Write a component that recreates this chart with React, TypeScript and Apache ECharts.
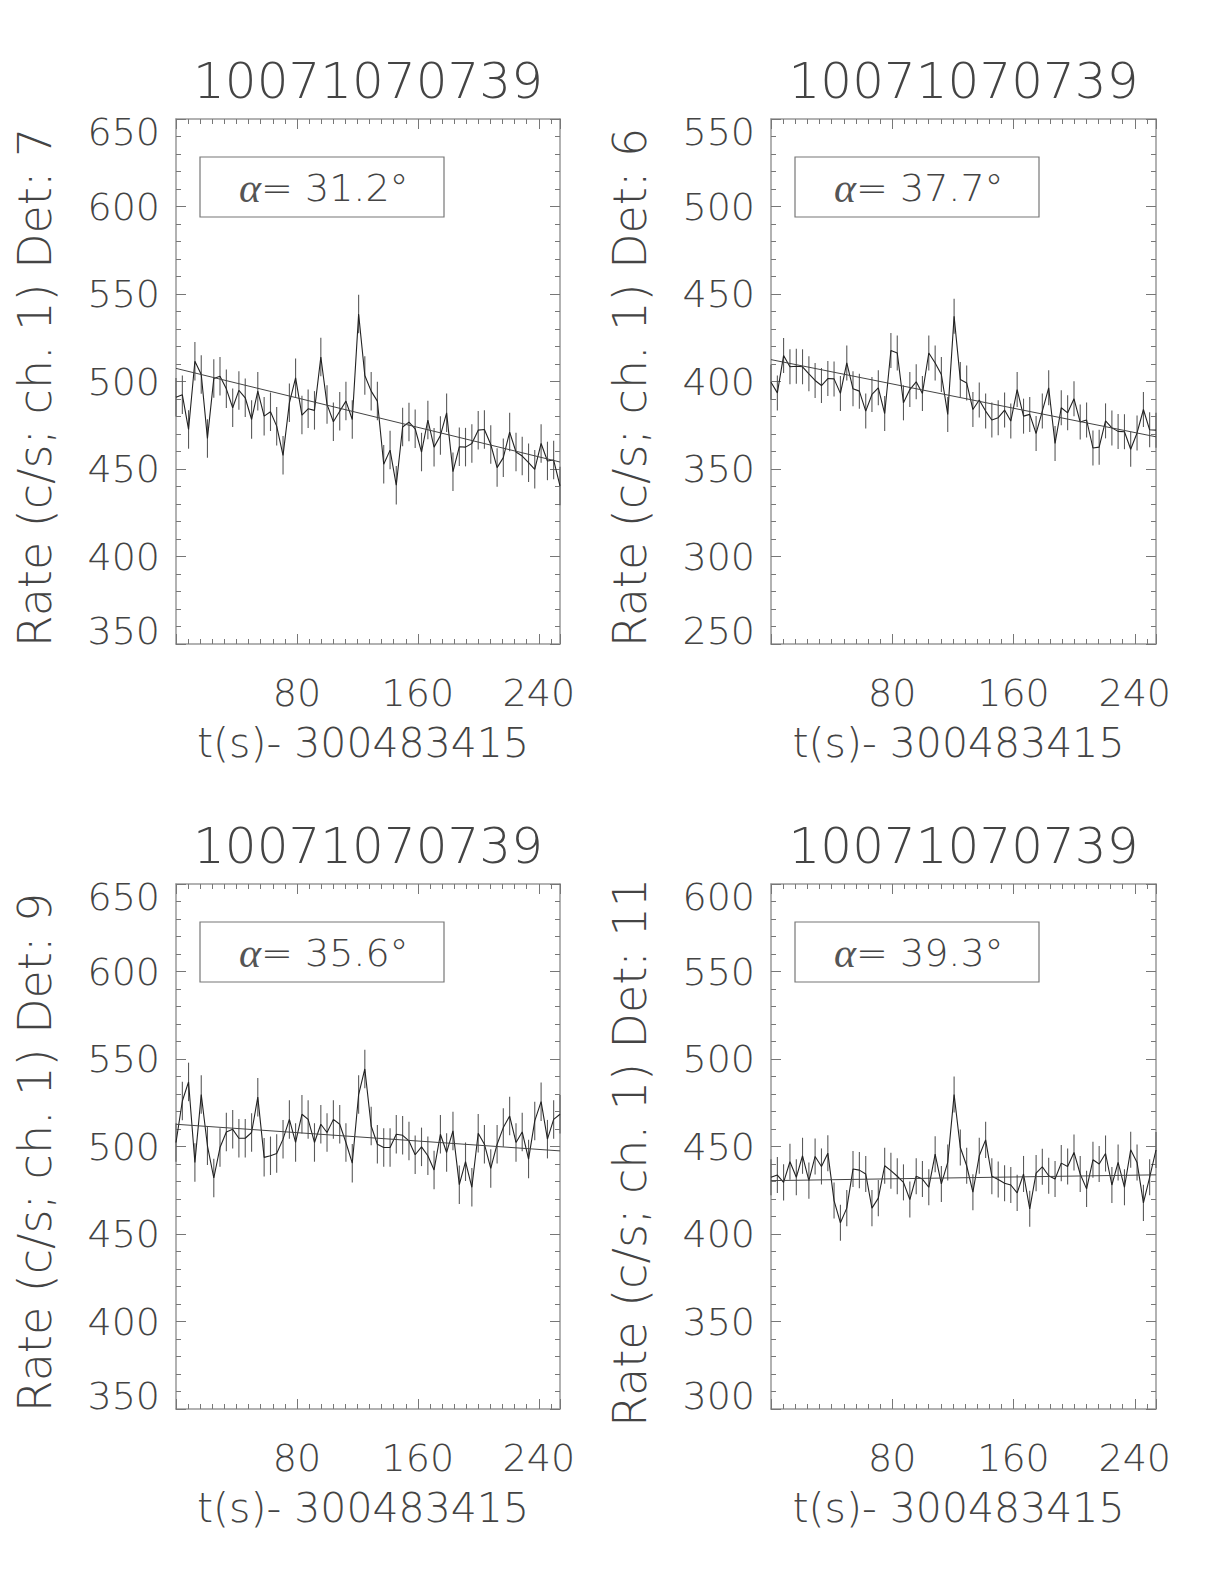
import React, { useEffect, useRef } from "react";
import * as echarts from "echarts";

const TITLE = "10071070739";
const X_TITLE = "t(s)- 300483415";
const Y_TITLE_PREFIX = "Rate (c/s; ch. 1) Det: ";
const DETECTORS = ["7", "6", "9", "11"];
const ALPHAS = ["31.2", "37.7", "35.6", "39.3"];
const X_TICKS = [80, 160, 240];
const Y_MIN = [350, 250, 350, 300];
const Y_MAX = [650, 550, 650, 600];

const TIME = [
  0, 4.2, 8.3, 12.5, 16.7, 20.8, 25.0, 29.1, 33.3, 37.5, 41.6, 45.8, 50.0, 54.1, 58.3, 62.5,
  66.6, 70.8, 75.0, 79.1, 83.3, 87.4, 91.6, 95.8, 99.9, 104.1, 108.3, 112.4, 116.6, 120.8,
  124.9, 129.1, 133.2, 137.4, 141.6, 145.7, 149.9, 154.1, 158.2, 162.4, 166.6, 170.7, 174.9,
  179.0, 183.2, 187.4, 191.5, 195.7, 199.9, 204.0, 208.2, 212.4, 216.5, 220.7, 224.9, 229.0,
  233.2, 237.3, 241.5, 245.7, 249.8, 254.0,
];

const RATE_DET7 = [
  491, 492.4, 472.6, 511.6, 504, 467.5, 501.7, 503, 495.8, 485, 494.9, 490.7, 478.3, 494.5,
  480.2, 482.7, 474.5, 457.8, 487.8, 502.1, 480.8, 484.4, 483.5, 514, 486.9, 477, 483, 488.8,
  478.3, 538.6, 503.4, 494.5, 488.8, 452.7, 460.8, 440.7, 474, 476.8, 473, 459.7, 478, 462.5,
  469.2, 482.1, 448.5, 462.7, 462.5, 464.6, 472.2, 472.6, 464, 450.8, 456.5, 471.1, 459.7,
  457.4, 453.6, 449.8, 464.6, 454.6, 455.1, 440.3,
];
const RATE_DET6 = [
  399.6, 393.5, 414.8, 408.4, 408.7, 408.4, 404.4, 400.6, 397.7, 401.7, 401.5, 393.2, 410.6,
  395.8, 394.5, 383.1, 392.6, 396.4, 381.7, 417.7, 416.3, 387.8, 395.4, 399.8, 393.2, 416.3,
  410.6, 404.0, 381.2, 437.3, 401.1, 399.2, 384.0, 389.4, 383.1, 378.0, 379.3, 383.7, 377.4,
  395.4, 380.2, 381.2, 370.3, 383.1, 396.4, 364.6, 385.0, 382.1, 390.1, 376.8, 378.0, 362.0,
  362.5, 377.5, 373.5, 371.5, 371.3, 361.3, 370.6, 384.0, 372.4, 372.2,
];
const RATE_DET9 = [
  502.3, 526, 536.9, 490.9, 529.7, 500.4, 482, 499.4, 508.3, 509.8, 504.7, 504.7, 508, 528.2,
  493.8, 494.7, 496, 504.2, 515.5, 502.3, 518.4, 515.5, 502.3, 512.7, 508, 515.5, 512.7, 502.3,
  490.5, 529.7, 544.3, 511.7, 501.3, 499.4, 499.4, 507, 506.4, 503.2, 495.3, 499.8, 494.7,
  486.6, 507, 496.6, 508.9, 478.2, 491.3, 476.7, 507.6, 501.3, 487.5, 501.3, 510.8, 517.4,
  502.3, 508.3, 492.8, 514.6, 525.6, 504.2, 515.5, 518.4,
];
const RATE_DET11 = [
  432.4, 433.7, 429.5, 441.3, 432.4, 444.7, 430.5, 444.3, 438.6, 446.2, 419.1, 406.4, 414.8,
  437.1, 436.5, 434.3, 414.8, 420.5, 439.0, 436.2, 433.0, 429.5, 419.7, 433.0, 431.4, 426.7,
  445.6, 428.6, 440.9, 479.7, 449.4, 439.0, 423.9, 444.7, 453.8, 433.0, 431.1, 429.0, 428.0,
  423.5, 434.3, 414.4, 434.8, 438.4, 433.3, 431.4, 440.5, 438.6, 446.6, 434.3, 425.8, 442.4,
  440.0, 446.0, 428.0, 440.9, 426.7, 448.1, 440.9, 417.8, 432.4, 448.0,
];
const RATES = [RATE_DET7, RATE_DET6, RATE_DET9, RATE_DET11];
const ERRORS = [11, 10, 11, 10.3];

// linear fit: value at first and last time bin
const FIT_DET7 = [507.5, 454.0];
const FIT_DET6 = [412.5, 368.4];
const FIT_DET9 = [512.7, 497.5];
const FIT_DET11 = [430.5, 433.8];
const FITS = [FIT_DET7, FIT_DET6, FIT_DET9, FIT_DET11];

const FONT = "'DejaVu Sans', sans-serif";
const W = 200;
const TEXT = "#444";
const FRAME = "#999";
const TICK = "#777";

const PANELS = [
  { left: 176, top: 119, width: 384, height: 525 },
  { left: 771, top: 119, width: 385, height: 525 },
  { left: 176, top: 884, width: 384, height: 525 },
  { left: 771, top: 884, width: 385, height: 525 },
];

export default function App() {
  const ref = useRef<HTMLDivElement>(null);
  useEffect(() => {
    if (!ref.current) return;
    const chart = echarts.init(ref.current, undefined, { renderer: "svg" });
    const grid: any[] = [];
    const xAxis: any[] = [];
    const yAxis: any[] = [];
    const series: any[] = [];
    const graphic: any[] = [];

    PANELS.forEach((p, i) => {
      grid.push({ left: p.left, top: p.top, width: p.width, height: p.height, containLabel: false });
      const tMin = TIME[0];
      const tMax = TIME[TIME.length - 1];
      const xCommon = {
        type: "value",
        gridIndex: i,
        min: tMin,
        max: tMax,
        interval: 80,
        axisLine: { show: true, onZero: false, lineStyle: { color: FRAME, width: 1.5 } },
        axisTick: { show: true, inside: true, length: 10, lineStyle: { color: TICK } },
        minorTick: { show: true, splitNumber: 10, length: 5, lineStyle: { color: TICK } },
        splitLine: { show: false },
        minorSplitLine: { show: false },
      };
      xAxis.push({
        ...xCommon,
        position: "bottom",
        axisLabel: {
          show: true,
          margin: 30,
          fontSize: 38,
          fontFamily: FONT,
          fontWeight: W,
          color: TEXT,
          hideOverlap: false,
          formatter: (v: number) => (X_TICKS.indexOf(v) >= 0 ? String(v) : ""),
        },
      });
      xAxis.push({ ...xCommon, position: "top", axisLabel: { show: false } });
      const yCommon = {
        type: "value",
        gridIndex: i,
        min: Y_MIN[i],
        max: Y_MAX[i],
        interval: 50,
        axisLine: { show: true, onZero: false, lineStyle: { color: FRAME, width: 1.5 } },
        axisTick: { show: true, inside: true, length: 10, lineStyle: { color: TICK } },
        minorTick: { show: true, splitNumber: 5, length: 5, lineStyle: { color: TICK } },
        splitLine: { show: false },
        minorSplitLine: { show: false },
      };
      yAxis.push({
        ...yCommon,
        position: "left",
        axisLabel: {
          show: true,
          margin: 16,
          fontSize: 38,
          lineHeight: 26,
          fontFamily: FONT,
          fontWeight: W,
          color: TEXT,
          hideOverlap: false,
          verticalAlignMaxLabel: "top",
          verticalAlignMinLabel: "bottom",
        },
      });
      yAxis.push({ ...yCommon, position: "right", axisLabel: { show: false } });

      const rate = RATES[i];
      const err = ERRORS[i];
      series.push({
        type: "custom",
        xAxisIndex: 2 * i,
        yAxisIndex: 2 * i,
        data: TIME.map((t, j) => [t, rate[j] - err, rate[j] + err]),
        encode: { x: 0, y: [1, 2] },
        renderItem: (params: any, api: any) => {
          const a = api.coord([api.value(0), api.value(1)]);
          const b = api.coord([api.value(0), api.value(2)]);
          return {
            type: "line",
            shape: { x1: a[0], y1: a[1], x2: b[0], y2: b[1] },
            style: { stroke: "#5a5a5a", lineWidth: 1.1 },
          };
        },
        silent: true,
        z: 2,
      });
      series.push({
        type: "line",
        xAxisIndex: 2 * i,
        yAxisIndex: 2 * i,
        data: TIME.map((t, j) => [t, rate[j]]),
        showSymbol: false,
        symbol: "none",
        lineStyle: { color: "#222", width: 1.1 },
        silent: true,
        z: 3,
      });
      series.push({
        type: "line",
        xAxisIndex: 2 * i,
        yAxisIndex: 2 * i,
        data: [
          [tMin, FITS[i][0]],
          [tMax, FITS[i][1]],
        ],
        showSymbol: false,
        symbol: "none",
        lineStyle: { color: "#444", width: 1 },
        silent: true,
        z: 3,
      });

      const cx = p.left + p.width / 2;
      graphic.push({
        type: "text",
        x: cx,
        y: p.top - 38,
        style: {
          text: TITLE,
          fontSize: 50,
          fontFamily: FONT,
          fontWeight: W,
          fill: TEXT,
          textAlign: "center",
          textVerticalAlign: "middle",
        },
      });
      graphic.push({
        type: "text",
        x: p.left - 141,
        y: p.top + p.height / 2 + 6,
        rotation: Math.PI / 2,
        style: {
          text: Y_TITLE_PREFIX + DETECTORS[i],
          fontSize: 46,
          fontFamily: FONT,
          fontWeight: W,
          fill: TEXT,
          textAlign: "center",
          textVerticalAlign: "middle",
        },
      });
      graphic.push({
        type: "text",
        x: cx - 5,
        y: p.top + p.height + 99,
        style: {
          text: X_TITLE,
          fontSize: 41,
          fontFamily: FONT,
          fontWeight: W,
          fill: TEXT,
          textAlign: "center",
          textVerticalAlign: "middle",
        },
      });
      graphic.push({
        type: "rect",
        shape: { x: p.left + 24, y: p.top + 38, width: 244, height: 60 },
        style: { fill: "none", stroke: "#777", lineWidth: 1.2 },
      });
      graphic.push({
        type: "text",
        x: p.left + 63,
        y: p.top + 69,
        style: {
          text: "{a|α}= " + ALPHAS[i] + "°",
          fontSize: 38,
          fontFamily: FONT,
          fontWeight: W,
          fill: TEXT,
          textAlign: "left",
          textVerticalAlign: "middle",
          rich: {
            a: {
              fontSize: 42,
              fontFamily: "'Liberation Serif', serif",
              fontStyle: "italic",
              fontWeight: "normal",
              fill: "#555",
            },
          },
        },
      });
    });

    chart.setOption({
      animation: false,
      backgroundColor: "#fff",
      grid,
      xAxis,
      yAxis,
      series,
      graphic,
    });
    return () => chart.dispose();
  }, []);
  return (
    <div
      ref={ref}
      style={{ position: "absolute", left: 0, top: 0, width: 1224, height: 1584, background: "#fff" }}
    />
  );
}
